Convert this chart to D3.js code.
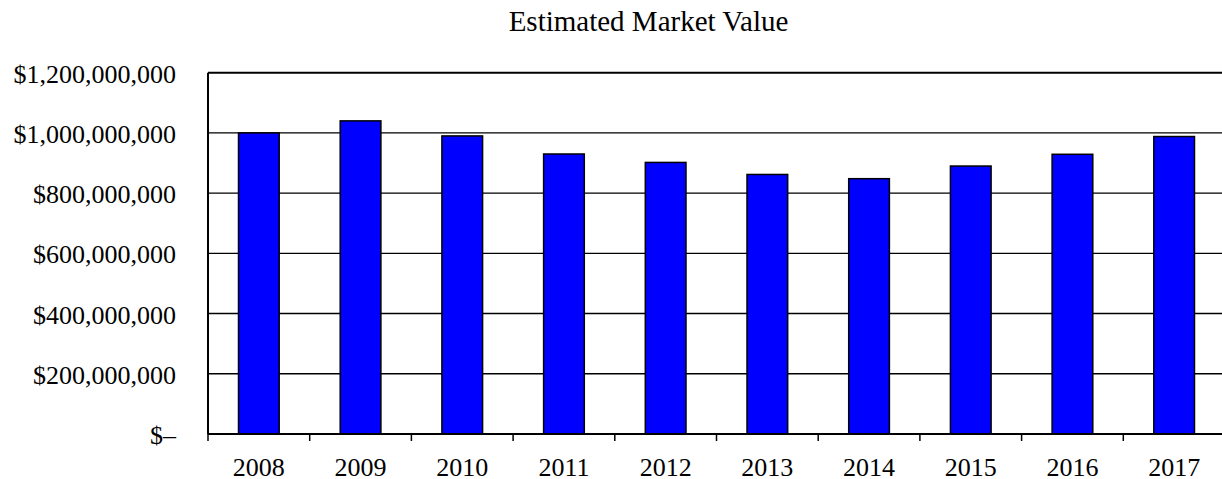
<!DOCTYPE html>
<html>
<head>
<meta charset="utf-8">
<script src="https://cdn.jsdelivr.net/npm/d3@7"></script>
<style>
  html, body { margin: 0; padding: 0; background: #fff; }
  svg { display: block; }
  .label { font-family: 'Liberation Serif', 'Times New Roman', serif; fill: #000; }
</style>
</head>
<body>
<svg class="chart"></svg>
<script>
const years = ['2008', '2009', '2010', '2011', '2012', '2013', '2014', '2015', '2016', '2017']
const values = [1000000000, 1040000000, 990000000, 930000000, 902000000, 862000000, 848000000, 890000000, 929000000, 988000000]
const yTicks = [0, 200000000, 400000000, 600000000, 800000000, 1000000000, 1200000000]
const title = 'Estimated Market Value'

const drawChart = () => {

    const width = 1222
    const height = 479

    // plot area runs a little past the right edge, as in the reference
    const plot = { left: 208, right: 1225, top: 72.7, bottom: 434 }

    const svg = d3.select('.chart')
        .attr('width', width)
        .attr('height', height)

    const xScale = d3.scaleBand()
        .domain(years)
        .range([plot.left, plot.right])
        .paddingInner(0.6)
        .paddingOuter(0.3)

    const yScale = d3.scaleLinear()
        .domain([0, 1200000000])
        .range([plot.bottom, plot.top])

    const fmt = d3.format(',')
    const money = v => v === 0 ? '$\u2013' : '$' + fmt(v)

    // gridlines
    svg.selectAll('.grid')
        .data(yTicks.filter(d => d > 0))
        .enter()
        .append('line')
        .attr('class', 'grid')
        .attr('x1', plot.left)
        .attr('x2', plot.right)
        .attr('y1', d => yScale(d))
        .attr('y2', d => yScale(d))
        .attr('stroke', '#000')
        .attr('stroke-width', d => d === 1200000000 ? 2 : 1.4)

    // bars
    svg.selectAll('.bar')
        .data(years)
        .enter()
        .append('rect')
        .attr('class', 'bar')
        .attr('x', d => xScale(d))
        .attr('width', xScale.bandwidth())
        .attr('y', (d, i) => yScale(values[i]))
        .attr('height', (d, i) => yScale(0) - yScale(values[i]))
        .attr('fill', '#0000ff')
        .attr('stroke', '#000')
        .attr('stroke-width', 1.5)

    // frame: left and right edges
    svg.append('line')
        .attr('x1', plot.left).attr('x2', plot.left)
        .attr('y1', plot.top).attr('y2', plot.bottom)
        .attr('stroke', '#000').attr('stroke-width', 2)

    svg.append('line')
        .attr('x1', plot.right).attr('x2', plot.right)
        .attr('y1', plot.top).attr('y2', plot.bottom)
        .attr('stroke', '#000').attr('stroke-width', 2)

    // x axis line and ticks at category boundaries
    svg.append('line')
        .attr('x1', plot.left).attr('x2', plot.right)
        .attr('y1', yScale(0)).attr('y2', yScale(0))
        .attr('stroke', '#000').attr('stroke-width', 2)

    const step = xScale.step()
    const edges = d3.range(years.length + 1).map(i => plot.left + i * step)

    svg.selectAll('.xtick')
        .data(edges)
        .enter()
        .append('line')
        .attr('class', 'xtick')
        .attr('x1', d => d).attr('x2', d => d)
        .attr('y1', yScale(0)).attr('y2', yScale(0) + 7)
        .attr('stroke', '#000').attr('stroke-width', 1.5)

    // y labels
    svg.selectAll('.ylabel')
        .data(yTicks)
        .enter()
        .append('text')
        .attr('class', 'label')
        .attr('x', plot.left - 32)
        .attr('y', d => yScale(d) + 10)
        .style('text-anchor', 'end')
        .style('font-size', '26px')
        .text(money)

    // x labels
    svg.selectAll('.xlabel')
        .data(years)
        .enter()
        .append('text')
        .attr('class', 'label')
        .attr('x', d => xScale(d) + xScale.bandwidth() / 2)
        .attr('y', yScale(0) + 42)
        .style('text-anchor', 'middle')
        .style('font-size', '26px')
        .text(d => d)

    svg.append('text')
        .attr('class', 'label')
        .attr('x', 648.5)
        .attr('y', 31)
        .style('text-anchor', 'middle')
        .style('font-size', '29px')
        .text(title)
}

drawChart()
</script>
</body>
</html>
